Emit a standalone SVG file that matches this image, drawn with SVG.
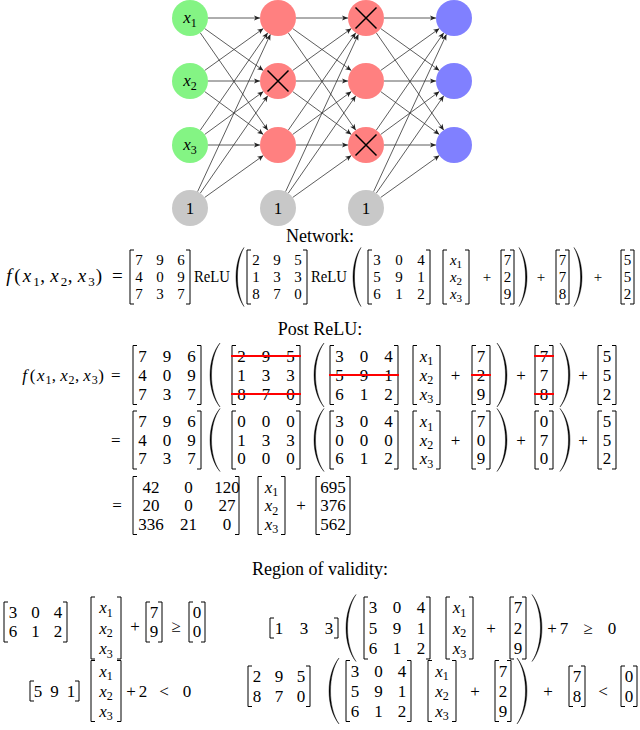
<svg xmlns="http://www.w3.org/2000/svg" width="640" height="730" viewBox="0 0 640 730">
<defs>
<style>
text{font-family:"Liberation Serif","Times New Roman",serif;fill:#000}
.m{font-size:17px}
.n{font-size:15px}
.fn{font-size:19px}
.h{font-size:18px;text-anchor:middle}
.c{text-anchor:middle}
.i{font-style:italic}
.s{font-size:12px}
.s1{font-size:11px}
.s2{font-size:13px}
.b{fill:none;stroke:#000;stroke-width:1}
.p{fill:#000;stroke:#000;stroke-width:0.4}
.k{stroke:#f00;stroke-width:1.8}
.e{stroke:#333;stroke-width:0.8;marker-end:url(#ah)}
.x{stroke:#000;stroke-width:1.5}
.g{fill:#84f484}.r{fill:#ff8080}.u{fill:#8080ff}.y{fill:#c8c8c8}
</style>
<marker id="ah" viewBox="-7 -4 8 8" refX="0" refY="0" markerWidth="8" markerHeight="8" markerUnits="userSpaceOnUse" orient="auto"><path d="M0,0 L-6,-2.6 L-4.5,0 L-6,2.6 Z" fill="#222"/></marker>
</defs>
<rect width="640" height="730" fill="#fff"/>

<g id="connectors">
<line class="e" x1="208" y1="18" x2="260" y2="18"/>
<line class="e" x1="204.6" y1="28.5" x2="263.4" y2="70.5"/>
<line class="e" x1="200.25" y1="32.8" x2="267.75" y2="130.2"/>
<line class="e" x1="204.6" y1="70.5" x2="263.4" y2="28.5"/>
<line class="e" x1="208" y1="81" x2="260" y2="81"/>
<line class="e" x1="204.6" y1="91.5" x2="263.4" y2="134.5"/>
<line class="e" x1="200.25" y1="130.2" x2="267.75" y2="32.8"/>
<line class="e" x1="204.6" y1="134.5" x2="263.4" y2="91.5"/>
<line class="e" x1="208" y1="145" x2="260" y2="145"/>
<line class="e" x1="197.56" y1="191.7" x2="270.44" y2="34.3"/>
<line class="e" x1="200.25" y1="193.2" x2="267.75" y2="95.8"/>
<line class="e" x1="204.6" y1="197.5" x2="263.4" y2="155.5"/>

<line class="e" x1="296" y1="18" x2="348" y2="18"/>
<line class="e" x1="292.6" y1="28.5" x2="351.4" y2="70.5"/>
<line class="e" x1="288.25" y1="32.8" x2="355.75" y2="130.2"/>
<line class="e" x1="292.6" y1="70.5" x2="351.4" y2="28.5"/>
<line class="e" x1="296" y1="81" x2="348" y2="81"/>
<line class="e" x1="292.6" y1="91.5" x2="351.4" y2="134.5"/>
<line class="e" x1="288.25" y1="130.2" x2="355.75" y2="32.8"/>
<line class="e" x1="292.6" y1="134.5" x2="351.4" y2="91.5"/>
<line class="e" x1="296" y1="145" x2="348" y2="145"/>
<line class="e" x1="285.56" y1="191.7" x2="358.44" y2="34.3"/>
<line class="e" x1="288.25" y1="193.2" x2="355.75" y2="95.8"/>
<line class="e" x1="292.6" y1="197.5" x2="351.4" y2="155.5"/>

<line class="e" x1="384" y1="18" x2="436" y2="18"/>
<line class="e" x1="380.6" y1="28.5" x2="439.4" y2="70.5"/>
<line class="e" x1="376.25" y1="32.8" x2="443.75" y2="130.2"/>
<line class="e" x1="380.6" y1="70.5" x2="439.4" y2="28.5"/>
<line class="e" x1="384" y1="81" x2="436" y2="81"/>
<line class="e" x1="380.6" y1="91.5" x2="439.4" y2="134.5"/>
<line class="e" x1="376.25" y1="130.2" x2="443.75" y2="32.8"/>
<line class="e" x1="380.6" y1="134.5" x2="439.4" y2="91.5"/>
<line class="e" x1="384" y1="145" x2="436" y2="145"/>
<line class="e" x1="373.56" y1="191.7" x2="446.44" y2="34.3"/>
<line class="e" x1="376.25" y1="193.2" x2="443.75" y2="95.8"/>
<line class="e" x1="380.6" y1="197.5" x2="439.4" y2="155.5"/>
</g>

<g id="in1"><circle class="g" cx="190" cy="18" r="18"/><text x="190" y="23" class="m c"><tspan class="i">x</tspan><tspan class="s" dy="3.5">1</tspan></text></g>
<g id="in2"><circle class="g" cx="190" cy="81" r="18"/><text x="190" y="86" class="m c"><tspan class="i">x</tspan><tspan class="s" dy="3.5">2</tspan></text></g>
<g id="in3"><circle class="g" cx="190" cy="145" r="18"/><text x="190" y="150" class="m c"><tspan class="i">x</tspan><tspan class="s" dy="3.5">3</tspan></text></g>
<g id="bias1"><circle class="y" cx="190" cy="208" r="18"/><text x="190" y="213.8" class="m c">1</text></g>
<g id="h1a"><circle class="r" cx="278" cy="18" r="18"/></g>
<g id="h1b"><circle class="r" cx="278" cy="81" r="18"/><path class="x" d="M267.5 70.5L288.5 91.5M288.5 70.5L267.5 91.5"/></g>
<g id="h1c"><circle class="r" cx="278" cy="145" r="18"/></g>
<g id="bias2"><circle class="y" cx="278" cy="208" r="18"/><text x="278" y="213.8" class="m c">1</text></g>
<g id="h2a"><circle class="r" cx="366" cy="18" r="18"/><path class="x" d="M355.5 7.5L376.5 28.5M376.5 7.5L355.5 28.5"/></g>
<g id="h2b"><circle class="r" cx="366" cy="81" r="18"/></g>
<g id="h2c"><circle class="r" cx="366" cy="145" r="18"/><path class="x" d="M355.5 134.5L376.5 155.5M376.5 134.5L355.5 155.5"/></g>
<g id="bias3"><circle class="y" cx="366" cy="208" r="18"/><text x="366" y="213.8" class="m c">1</text></g>
<g id="out1"><circle class="u" cx="454" cy="18" r="18"/></g>
<g id="out2"><circle class="u" cx="454" cy="81" r="18"/></g>
<g id="out3"><circle class="u" cx="454" cy="145" r="18"/></g>

<text x="320" y="242" class="h">Network:</text>
<text x="320" y="334.5" class="h">Post ReLU:</text>
<text x="320" y="574.5" class="h">Region of validity:</text>

<g id="eq-network">
<text y="282" class="fn c"><tspan x="9" class="i">f</tspan><tspan x="17.5">(</tspan><tspan x="27" class="i">x</tspan><tspan x="36.5" y="286" class="s2">1</tspan><tspan x="42.5" y="282">,</tspan><tspan x="54.5" class="i">x</tspan><tspan x="64" y="286" class="s2">2</tspan><tspan x="70" y="282">,</tspan><tspan x="82" class="i">x</tspan><tspan x="91.5" y="286" class="s2">3</tspan><tspan x="99" y="282">)</tspan><tspan x="117.3">=</tspan></text>
<path class="b" d="M134 250H130V304H134M186 250H190V304H186M251 250H247V304H251M303 250H307V304H303M372 250H368V304H372M426 250H430V304H426M447 250H443V304H447M465 250H469V304H465M505 250H501V304H505M510 250H514V304H510M560 250H556V304H560M565 250H569V304H565M625 250H621V304H625M630 250H634V304H630"/>
<path class="p" d="M244 247.5C233.3 262.5 233.3 291.5 244 306.5C235.3 291.5 235.3 262.5 244 247.5Z"/>
<path class="p" d="M361 247.5C350.3 262.5 350.3 291.5 361 306.5C352.3 291.5 352.3 262.5 361 247.5Z"/>
<path class="p" d="M519 247.5C529.7 262.5 529.7 291.5 519 306.5C527.7 291.5 527.7 262.5 519 247.5Z"/>
<path class="p" d="M574 247.5C584.7 262.5 584.7 291.5 574 306.5C582.7 291.5 582.7 262.5 574 247.5Z"/>
<text y="265.1" class="n c"><tspan x="139">7</tspan><tspan x="160">9</tspan><tspan x="181">6</tspan><tspan x="256">2</tspan><tspan x="277">9</tspan><tspan x="298">5</tspan><tspan x="377">3</tspan><tspan x="399">0</tspan><tspan x="421">4</tspan><tspan x="507.5">7</tspan><tspan x="562.5">7</tspan><tspan x="627.5">5</tspan></text>
<text y="282.1" class="n c"><tspan x="139">4</tspan><tspan x="160">0</tspan><tspan x="181">9</tspan><tspan x="256">1</tspan><tspan x="277">3</tspan><tspan x="298">3</tspan><tspan x="377">5</tspan><tspan x="399">9</tspan><tspan x="421">1</tspan><tspan x="507.5">2</tspan><tspan x="562.5">7</tspan><tspan x="627.5">5</tspan><tspan x="487">+</tspan><tspan x="541">+</tspan><tspan x="598">+</tspan></text>
<text y="299.1" class="n c"><tspan x="139">7</tspan><tspan x="160">3</tspan><tspan x="181">7</tspan><tspan x="256">8</tspan><tspan x="277">7</tspan><tspan x="298">0</tspan><tspan x="377">6</tspan><tspan x="399">1</tspan><tspan x="421">2</tspan><tspan x="507.5">9</tspan><tspan x="562.5">8</tspan><tspan x="627.5">2</tspan></text>
<text x="194" y="282.1" class="m" textLength="36" lengthAdjust="spacingAndGlyphs">ReLU</text>
<text x="311" y="282.1" class="m" textLength="36" lengthAdjust="spacingAndGlyphs">ReLU</text>
<text x="456" y="265.1" class="n c"><tspan class="i">x</tspan><tspan class="s1" dy="2.6">1</tspan></text>
<text x="456" y="282.1" class="n c"><tspan class="i">x</tspan><tspan class="s1" dy="2.6">2</tspan></text>
<text x="456" y="299.1" class="n c"><tspan class="i">x</tspan><tspan class="s1" dy="2.6">3</tspan></text>
</g>

<g id="eq-post1">
<text y="380.8" class="m c"><tspan x="24.6" class="i">f</tspan><tspan x="32.6">(</tspan><tspan x="40.7" class="i">x</tspan><tspan x="48.5" y="384.3" class="s">1</tspan><tspan x="53.8" y="380.8">,</tspan><tspan x="63.9" class="i">x</tspan><tspan x="71.6" y="384.3" class="s">2</tspan><tspan x="77" y="380.8">,</tspan><tspan x="87" class="i">x</tspan><tspan x="94.8" y="384.3" class="s">3</tspan><tspan x="101" y="380.8">)</tspan><tspan x="115.7">=</tspan></text>
<path class="b" d="M137 345.5H133V404.5H137M197 345.5H201V404.5H197M236 345.5H232V404.5H236M296 345.5H300V404.5H296M334 345.5H330V404.5H334M394 345.5H398V404.5H394M417 345.5H413V404.5H417M436 345.5H440V404.5H436M476 345.5H472V404.5H476M486 345.5H490V404.5H486M539 345.5H535V404.5H539M549 345.5H553V404.5H549M602 345.5H598V404.5H602M612 345.5H616V404.5H612"/>
<path class="p" d="M220 343C206.7 359 206.7 391 220 407C208.7 391 208.7 359 220 343Z"/>
<path class="p" d="M324 343C310.7 359 310.7 391 324 407C312.7 391 312.7 359 324 343Z"/>
<path class="p" d="M497 343C510.3 359 510.3 391 497 407C508.3 391 508.3 359 497 343Z"/>
<path class="p" d="M560 343C573.3 359 573.3 391 560 407C571.3 391 571.3 359 560 343Z"/>
<text y="361.8" class="m c"><tspan x="142.5">7</tspan><tspan x="167">9</tspan><tspan x="191.5">6</tspan><tspan x="241.5">2</tspan><tspan x="266">9</tspan><tspan x="290.5">5</tspan><tspan x="339.5">3</tspan><tspan x="364">0</tspan><tspan x="388.5">4</tspan><tspan x="481">7</tspan><tspan x="544">7</tspan><tspan x="607">5</tspan></text>
<text y="380.8" class="m c"><tspan x="142.5">4</tspan><tspan x="167">0</tspan><tspan x="191.5">9</tspan><tspan x="241.5">1</tspan><tspan x="266">3</tspan><tspan x="290.5">3</tspan><tspan x="339.5">5</tspan><tspan x="364">9</tspan><tspan x="388.5">1</tspan><tspan x="481">2</tspan><tspan x="544">7</tspan><tspan x="607">5</tspan><tspan x="455.5">+</tspan><tspan x="521">+</tspan><tspan x="583">+</tspan></text>
<text y="399.8" class="m c"><tspan x="142.5">7</tspan><tspan x="167">3</tspan><tspan x="191.5">7</tspan><tspan x="241.5">8</tspan><tspan x="266">7</tspan><tspan x="290.5">0</tspan><tspan x="339.5">6</tspan><tspan x="364">1</tspan><tspan x="388.5">2</tspan><tspan x="481">9</tspan><tspan x="544">8</tspan><tspan x="607">2</tspan></text>
<text x="426.5" y="361.8" class="m c"><tspan class="i">x</tspan><tspan class="s" dy="3.5">1</tspan></text>
<text x="426.5" y="380.8" class="m c"><tspan class="i">x</tspan><tspan class="s" dy="3.5">2</tspan></text>
<text x="426.5" y="399.8" class="m c"><tspan class="i">x</tspan><tspan class="s" dy="3.5">3</tspan></text>
<path class="k" d="M231 356H301M231 394H301M329 375H399M471 375H491M534 356H554M534 394H554"/>
</g>

<g id="eq-post2">
<text x="115.7" y="445.8" class="m c">=</text>
<path class="b" d="M137 411H133V469H137M197 411H201V469H197M236 411H232V469H236M296 411H300V469H296M334 411H330V469H334M394 411H398V469H394M417 411H413V469H417M436 411H440V469H436M476 411H472V469H476M486 411H490V469H486M539 411H535V469H539M549 411H553V469H549M602 411H598V469H602M612 411H616V469H612"/>
<path class="p" d="M220 408.5C206.7 424.3 206.7 455.8 220 471.5C208.7 455.8 208.7 424.3 220 408.5Z"/>
<path class="p" d="M324 408.5C310.7 424.3 310.7 455.8 324 471.5C312.7 455.8 312.7 424.3 324 408.5Z"/>
<path class="p" d="M497 408.5C510.3 424.3 510.3 455.8 497 471.5C508.3 455.8 508.3 424.3 497 408.5Z"/>
<path class="p" d="M560 408.5C573.3 424.3 573.3 455.8 560 471.5C571.3 455.8 571.3 424.3 560 408.5Z"/>
<text y="427.3" class="m c"><tspan x="142.5">7</tspan><tspan x="167">9</tspan><tspan x="191.5">6</tspan><tspan x="241.5">0</tspan><tspan x="266">0</tspan><tspan x="290.5">0</tspan><tspan x="339.5">3</tspan><tspan x="364">0</tspan><tspan x="388.5">4</tspan><tspan x="481">7</tspan><tspan x="544">0</tspan><tspan x="607">5</tspan></text>
<text y="445.8" class="m c"><tspan x="142.5">4</tspan><tspan x="167">0</tspan><tspan x="191.5">9</tspan><tspan x="241.5">1</tspan><tspan x="266">3</tspan><tspan x="290.5">3</tspan><tspan x="339.5">0</tspan><tspan x="364">0</tspan><tspan x="388.5">0</tspan><tspan x="481">0</tspan><tspan x="544">7</tspan><tspan x="607">5</tspan><tspan x="455.5">+</tspan><tspan x="521">+</tspan><tspan x="583">+</tspan></text>
<text y="464.3" class="m c"><tspan x="142.5">7</tspan><tspan x="167">3</tspan><tspan x="191.5">7</tspan><tspan x="241.5">0</tspan><tspan x="266">0</tspan><tspan x="290.5">0</tspan><tspan x="339.5">6</tspan><tspan x="364">1</tspan><tspan x="388.5">2</tspan><tspan x="481">9</tspan><tspan x="544">0</tspan><tspan x="607">2</tspan></text>
<text x="426.5" y="427.3" class="m c"><tspan class="i">x</tspan><tspan class="s" dy="3.5">1</tspan></text>
<text x="426.5" y="445.8" class="m c"><tspan class="i">x</tspan><tspan class="s" dy="3.5">2</tspan></text>
<text x="426.5" y="464.3" class="m c"><tspan class="i">x</tspan><tspan class="s" dy="3.5">3</tspan></text>
</g>

<g id="eq-post3">
<text x="117" y="511.3" class="m c">=</text>
<path class="b" d="M137 476.5H133V534.5H137M235 476.5H239V534.5H235M262 476.5H258V534.5H262M281 476.5H285V534.5H281M320 476.5H316V534.5H320M346 476.5H350V534.5H346"/>
<text y="492.8" class="m c"><tspan x="151">42</tspan><tspan x="188.5">0</tspan><tspan x="227">120</tspan><tspan x="333">695</tspan></text>
<text y="511.3" class="m c"><tspan x="151">20</tspan><tspan x="188.5">0</tspan><tspan x="227">27</tspan><tspan x="333">376</tspan><tspan x="301">+</tspan></text>
<text y="529.8" class="m c"><tspan x="151">336</tspan><tspan x="188.5">21</tspan><tspan x="227">0</tspan><tspan x="333">562</tspan></text>
<text x="271.5" y="492.8" class="m c"><tspan class="i">x</tspan><tspan class="s" dy="3.5">1</tspan></text>
<text x="271.5" y="511.3" class="m c"><tspan class="i">x</tspan><tspan class="s" dy="3.5">2</tspan></text>
<text x="271.5" y="529.8" class="m c"><tspan class="i">x</tspan><tspan class="s" dy="3.5">3</tspan></text>
</g>

<g id="region-a-left">
<path class="b" d="M8 602H4V642H8M63 602H67V642H63M95 597H91V659H95M117 597H121V659H117M150 602H146V642H150M158 602H162V642H158M193 602H189V642H193M201 602H205V642H201"/>
<text y="618.3" class="m c"><tspan x="13">3</tspan><tspan x="35.5">0</tspan><tspan x="58">4</tspan><tspan x="154">7</tspan><tspan x="197">0</tspan></text>
<text y="637.3" class="m c"><tspan x="13">6</tspan><tspan x="35.5">1</tspan><tspan x="58">2</tspan><tspan x="154">9</tspan><tspan x="197">0</tspan></text>
<text y="632" class="m c"><tspan x="135">+</tspan><tspan x="176">≥</tspan></text>
<text x="106" y="613.3" class="m c"><tspan class="i">x</tspan><tspan class="s" dy="3.5">1</tspan></text>
<text x="106" y="633.8" class="m c"><tspan class="i">x</tspan><tspan class="s" dy="3.5">2</tspan></text>
<text x="106" y="654.3" class="m c"><tspan class="i">x</tspan><tspan class="s" dy="3.5">3</tspan></text>
</g>

<g id="region-a-right">
<path class="b" d="M274 618H270V638H274M334 618H338V638H334M368 597H364V659H368M426 597H430V659H426M450 597H446V659H450M469 597H473V659H469M514 597H510V659H514M522 597H526V659H522"/>
<path class="p" d="M356 594.5C342.7 611.3 342.7 644.8 356 661.5C344.7 644.8 344.7 611.3 356 594.5Z"/>
<path class="p" d="M532 594.5C545.3 611.3 545.3 644.8 532 661.5C543.3 644.8 543.3 611.3 532 594.5Z"/>
<text y="613.3" class="m c"><tspan x="373">3</tspan><tspan x="397">0</tspan><tspan x="421">4</tspan><tspan x="518">7</tspan></text>
<text y="633.8" class="m c"><tspan x="279">1</tspan><tspan x="304">3</tspan><tspan x="329">3</tspan><tspan x="373">5</tspan><tspan x="397">9</tspan><tspan x="421">1</tspan><tspan x="518">2</tspan><tspan x="491">+</tspan><tspan x="552">+</tspan><tspan x="564">7</tspan><tspan x="588">≥</tspan><tspan x="612">0</tspan></text>
<text y="654.3" class="m c"><tspan x="373">6</tspan><tspan x="397">1</tspan><tspan x="421">2</tspan><tspan x="518">9</tspan></text>
<text x="459.5" y="613.3" class="m c"><tspan class="i">x</tspan><tspan class="s" dy="3.5">1</tspan></text>
<text x="459.5" y="633.8" class="m c"><tspan class="i">x</tspan><tspan class="s" dy="3.5">2</tspan></text>
<text x="459.5" y="654.3" class="m c"><tspan class="i">x</tspan><tspan class="s" dy="3.5">3</tspan></text>
</g>

<g id="region-b-left">
<path class="b" d="M34 681H30V701H34M75 681H79V701H75M95 660.5H91V721.5H95M117 660.5H121V721.5H117"/>
<text y="696.8" class="m c"><tspan x="38">5</tspan><tspan x="54.5">9</tspan><tspan x="71">1</tspan><tspan x="131">+</tspan><tspan x="143">2</tspan><tspan x="164">&lt;</tspan><tspan x="187">0</tspan></text>
<text x="106" y="676.8" class="m c"><tspan class="i">x</tspan><tspan class="s" dy="3.5">1</tspan></text>
<text x="106" y="696.8" class="m c"><tspan class="i">x</tspan><tspan class="s" dy="3.5">2</tspan></text>
<text x="106" y="716.8" class="m c"><tspan class="i">x</tspan><tspan class="s" dy="3.5">3</tspan></text>
</g>

<g id="region-b-right">
<path class="b" d="M252 666H248V706.5H252M306 666H310V706.5H306M350 660.5H346V721.5H350M407 660.5H411V721.5H407M432 660.5H428V721.5H432M452 660.5H456V721.5H452M499 660.5H495V721.5H499M507 660.5H511V721.5H507M573 666H569V706.5H573M581 666H585V706.5H581M625 666H621V706.5H625M633 666H637V706.5H633"/>
<path class="p" d="M339 658C325.7 674.5 325.7 707.5 339 724C327.7 707.5 327.7 674.5 339 658Z"/>
<path class="p" d="M517 658C530.3 674.5 530.3 707.5 517 724C528.3 707.5 528.3 674.5 517 658Z"/>
<text y="682.3" class="m c"><tspan x="257">2</tspan><tspan x="279">9</tspan><tspan x="301">5</tspan><tspan x="577">7</tspan><tspan x="629">0</tspan></text>
<text y="701.8" class="m c"><tspan x="257">8</tspan><tspan x="279">7</tspan><tspan x="301">0</tspan><tspan x="577">8</tspan><tspan x="629">0</tspan></text>
<text y="676.8" class="m c"><tspan x="355">3</tspan><tspan x="378.5">0</tspan><tspan x="402">4</tspan><tspan x="503">7</tspan></text>
<text y="696.8" class="m c"><tspan x="355">5</tspan><tspan x="378.5">9</tspan><tspan x="402">1</tspan><tspan x="503">2</tspan><tspan x="475">+</tspan><tspan x="548">+</tspan><tspan x="603">&lt;</tspan></text>
<text y="716.8" class="m c"><tspan x="355">6</tspan><tspan x="378.5">1</tspan><tspan x="402">2</tspan><tspan x="503">9</tspan></text>
<text x="442" y="676.8" class="m c"><tspan class="i">x</tspan><tspan class="s" dy="3.5">1</tspan></text>
<text x="442" y="696.8" class="m c"><tspan class="i">x</tspan><tspan class="s" dy="3.5">2</tspan></text>
<text x="442" y="716.8" class="m c"><tspan class="i">x</tspan><tspan class="s" dy="3.5">3</tspan></text>
</g>
</svg>
